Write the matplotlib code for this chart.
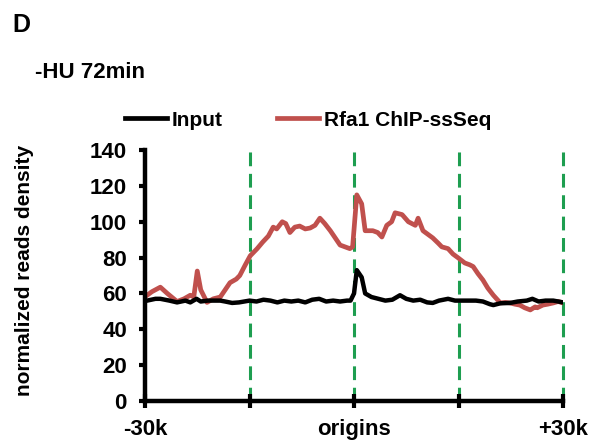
import matplotlib
matplotlib.use("Agg")
import matplotlib.pyplot as plt

# distance from origin (kb) and read densities
pos_rfa1 = [-29.7, -29.0, -27.8, -26.8, -25.4, -24.4, -23.5, -23.0, -22.5, -22.0,
            -21.1, -20.2, -19.2, -18.5, -17.8, -16.9, -16.4, -15.6, -14.9, -13.9,
            -13.1, -12.3, -11.6, -11.1, -10.3, -9.8, -9.2, -8.5, -7.8, -7.0,
            -6.3, -5.6, -4.9, -4.2, -3.4, -2.7, -2.0, -1.3, -0.6, -0.2,
            0.4, 1.1, 1.6, 2.7, 3.4, 4.0, 4.7, 5.4, 5.9, 6.9,
            7.8, 8.8, 9.2, 9.9, 10.6, 11.3, 12.1, 12.6, 13.5, 14.2,
            14.9, 15.9, 16.6, 17.1, 17.8, 18.5, 19.2, 20.0, 21.0, 21.7,
            22.4, 23.1, 23.8, 24.5, 25.3, 26.0, 26.3, 27.1, 27.8, 28.6,
            29.3, 30.0]
rfa1 = [59, 61, 63.5, 60, 55.5, 57, 59, 58, 72.5, 62,
        55, 57, 58, 62, 66, 68, 70, 76, 81, 85,
        88.7, 92, 97, 96, 100, 99, 94, 97, 97.6, 96,
        96.5, 98, 102, 99, 95, 91, 87, 86, 85, 86,
        115, 110, 95, 95, 94, 91.5, 98, 100, 105, 104,
        100, 98, 102, 95, 93, 91, 88, 86, 85, 82,
        80, 77, 76, 75, 71, 67.5, 63, 59, 54.7, 55,
        54.7, 54, 53.5, 52, 50.8, 52.5, 52, 53.5, 54, 54.7,
        55.5, 54.7]

pos_input = [-29.7, -28.5, -27.8, -26.5, -25.4, -24.2, -23.5, -22.6, -22.0, -21.0,
             -19.2, -18.5, -17.5, -16.5, -15.0, -14.0, -13.0, -12.0, -11.0, -10.0,
             -9.0, -8.0, -7.0, -6.0, -5.0, -4.0, -3.0, -2.0, -1.0, -0.5,
             0.0, 0.4, 1.1, 1.6, 2.5, 3.5, 4.5, 5.5, 6.6, 7.5,
             8.5, 9.5, 10.5, 11.3, 12.2, 13.5, 14.5, 15.5, 16.5, 17.5,
             18.5, 19.5, 20.0, 21.0, 22.4, 23.5, 24.8, 25.6, 26.5, 27.5,
             28.6, 29.3, 30.0]
inp = [56, 57, 57, 56, 55, 56, 55, 57, 55.5, 56,
       56, 55.5, 54.7, 55, 56, 55.5, 56.5, 56, 55, 56,
       55.5, 56, 55, 56.5, 57, 55.5, 56, 55.5, 56, 56,
       60, 73, 69, 60, 58, 57, 56, 56.5, 59, 57,
       56, 56.5, 55, 54.7, 56, 57, 56, 56, 56, 56,
       55.5, 54, 53.5, 54.5, 54.7, 55.5, 56, 57, 55.5, 56,
       56, 55.5, 55]

xticks = [-30, -15, 0, 15, 30]
xlabels = ["-30k", "", "origins", "", "+30k"]
guides = [-15, 0, 15, 30]

plt.rcParams["font.family"] = ["Liberation Sans", "DejaVu Sans"]
plt.rcParams["font.weight"] = "bold"

fig = plt.figure(figsize=(5.98, 4.48), dpi=100)
ax = fig.add_axes([0.2425, 0.105, 0.699, 0.56])

# green dashed guides at origin and +/-15k
for g in guides:
    ax.plot([g, g], [0, 140], color="#1e9e50", lw=2.2, dashes=(4.5, 2.5),
            zorder=1, clip_on=False)

ax.plot(pos_input, inp, color="black", lw=3.2, label="Input", zorder=3)
ax.plot(pos_rfa1, rfa1, color="#c0504d", lw=3.4, label="Rfa1 ChIP-ssSeq", zorder=2)

ax.set_xlim(-30, 30)
ax.set_ylim(0, 140)
ax.set_yticks(range(0, 141, 20))
ax.set_xticks(xticks)
ax.set_xticklabels(xlabels)
ax.set_ylabel("normalized reads density", fontsize=15, fontweight="bold", labelpad=31)
ax.yaxis.set_label_coords(-0.265, 0.52)

for side in ["top", "right"]:
    ax.spines[side].set_visible(False)
for side in ["left", "bottom"]:
    ax.spines[side].set_linewidth(3.2)
ax.tick_params(axis="y", direction="out", length=4, width=3, labelsize=16, pad=9)
ax.tick_params(axis="x", direction="inout", length=10, width=3, labelsize=16, pad=8)
for lab in ax.get_xticklabels() + ax.get_yticklabels():
    lab.set_fontweight("bold")

leg = fig.legend(handles=ax.get_lines()[-2:], loc="center left",
                 bbox_to_anchor=(0.209, 0.732), ncol=2, frameon=False,
                 borderpad=0, borderaxespad=0, handlelength=2.0,
                 handletextpad=0.25, columnspacing=2.6,
                 prop={"size": 15, "weight": "bold"})
for line in leg.get_lines():
    line.set_linewidth(3.4)

fig.text(0.02, 0.945, "D", fontsize=18, fontweight="bold", va="center")
fig.text(0.058, 0.839, "-HU 72min", fontsize=16, fontweight="bold", va="center")

fig.savefig("out.png", dpi=100)
